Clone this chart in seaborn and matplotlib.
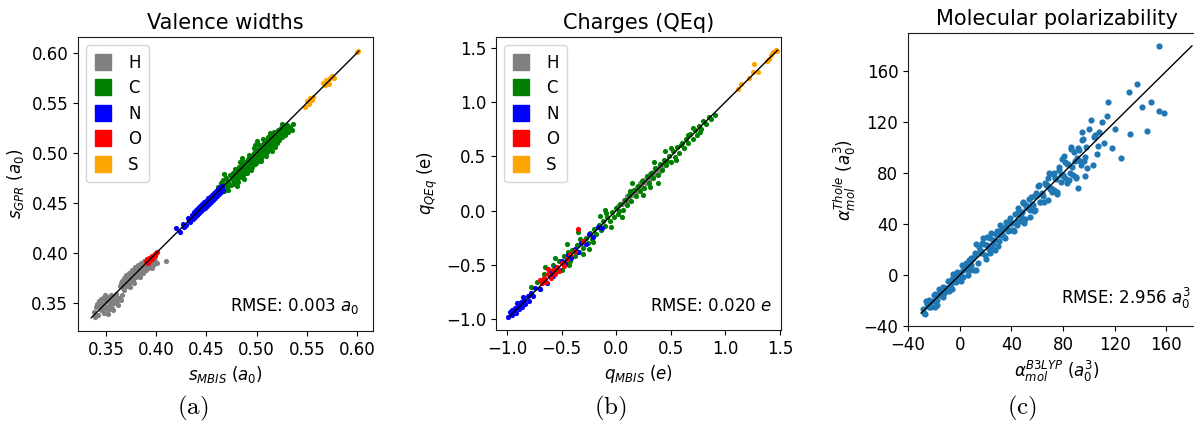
import pandas as pd
import matplotlib
matplotlib.use('Agg')
import matplotlib.pyplot as plt
import seaborn as sns
from matplotlib.lines import Line2D

sns.set_style('ticks', {'axes.edgecolor': '0.1', 'text.color': 'black', 'axes.labelcolor': 'black',
                        'xtick.color': 'black', 'ytick.color': 'black'})
plt.rcParams['font.family'] = ['DejaVu Sans']

elements = ['H', 'C', 'N', 'O', 'S']
elem_colors = ['grey', 'green', 'blue', 'red', 'orange']

# (a) valence widths, (MBIS, GPR) pairs
wid_H = [(0.338, 0.341), (0.340, 0.346), (0.342, 0.338), (0.343, 0.352), (0.345, 0.343), (0.346, 0.349),
         (0.347, 0.355), (0.348, 0.340), (0.349, 0.351), (0.350, 0.346), (0.351, 0.356), (0.352, 0.343),
         (0.353, 0.352), (0.354, 0.348), (0.355, 0.358), (0.356, 0.345), (0.357, 0.354), (0.358, 0.350),
         (0.359, 0.357), (0.361, 0.352), (0.363, 0.355), (0.365, 0.353), (0.344, 0.347), (0.350, 0.353),
         (0.355, 0.351), (0.360, 0.359), (0.347, 0.344), (0.353, 0.347), (0.341, 0.349), (0.345, 0.354),
         (0.349, 0.358), (0.352, 0.339), (0.357, 0.343), (0.362, 0.348), (0.339, 0.336), (0.366, 0.358),
         (0.364, 0.367), (0.366, 0.372), (0.367, 0.365), (0.368, 0.375), (0.369, 0.369), (0.370, 0.378),
         (0.371, 0.367), (0.372, 0.374), (0.373, 0.380), (0.374, 0.371), (0.375, 0.377), (0.376, 0.383),
         (0.377, 0.373), (0.378, 0.379), (0.379, 0.386), (0.380, 0.376), (0.381, 0.382), (0.382, 0.388),
         (0.383, 0.378), (0.384, 0.385), (0.385, 0.390), (0.386, 0.380), (0.387, 0.387), (0.388, 0.392),
         (0.389, 0.383), (0.390, 0.389), (0.391, 0.394), (0.392, 0.385), (0.393, 0.390), (0.394, 0.395),
         (0.395, 0.386), (0.396, 0.391), (0.397, 0.388), (0.399, 0.392), (0.372, 0.370), (0.377, 0.381),
         (0.381, 0.379), (0.385, 0.383), (0.389, 0.386), (0.393, 0.387), (0.375, 0.374), (0.383, 0.384),
         (0.368, 0.363), (0.371, 0.373), (0.374, 0.366), (0.378, 0.370), (0.380, 0.384), (0.384, 0.376),
         (0.387, 0.380), (0.390, 0.383), (0.392, 0.392), (0.396, 0.385), (0.398, 0.389), (0.401, 0.390),
         (0.365, 0.370), (0.370, 0.372), (0.376, 0.377), (0.382, 0.383), (0.386, 0.386), (0.410, 0.392)]
wid_C = [(0.462, 0.466), (0.464, 0.461), (0.465, 0.470), (0.466, 0.465), (0.467, 0.473), (0.468, 0.462),
         (0.469, 0.468), (0.470, 0.475), (0.471, 0.466), (0.472, 0.471), (0.473, 0.478), (0.474, 0.468),
         (0.475, 0.474), (0.476, 0.480), (0.477, 0.470), (0.478, 0.476), (0.479, 0.483), (0.480, 0.473),
         (0.481, 0.479), (0.482, 0.486), (0.483, 0.476), (0.484, 0.482), (0.485, 0.488), (0.486, 0.478),
         (0.487, 0.485), (0.488, 0.491), (0.489, 0.481), (0.490, 0.487), (0.491, 0.494), (0.492, 0.484),
         (0.493, 0.490), (0.494, 0.497), (0.495, 0.486), (0.496, 0.493), (0.497, 0.500), (0.498, 0.489),
         (0.499, 0.496), (0.500, 0.503), (0.501, 0.492), (0.502, 0.499), (0.503, 0.506), (0.504, 0.495),
         (0.505, 0.502), (0.506, 0.509), (0.507, 0.498), (0.508, 0.505), (0.509, 0.512), (0.510, 0.501),
         (0.511, 0.508), (0.512, 0.515), (0.513, 0.504), (0.514, 0.511), (0.515, 0.518), (0.516, 0.507),
         (0.517, 0.514), (0.518, 0.520), (0.519, 0.510), (0.520, 0.517), (0.521, 0.523), (0.522, 0.513),
         (0.523, 0.519), (0.524, 0.525), (0.525, 0.516), (0.526, 0.521), (0.527, 0.527), (0.528, 0.518),
         (0.529, 0.524), (0.531, 0.521), (0.533, 0.526), (0.535, 0.523), (0.476, 0.469), (0.483, 0.491),
         (0.490, 0.480), (0.497, 0.505), (0.504, 0.492), (0.511, 0.516), (0.518, 0.506), (0.468, 0.479),
         (0.480, 0.467), (0.500, 0.512), (0.515, 0.502), (0.525, 0.529), (0.487, 0.474), (0.494, 0.483),
         (0.506, 0.514), (0.513, 0.520), (0.520, 0.510), (0.472, 0.463), (0.485, 0.495), (0.498, 0.508),
         (0.509, 0.497), (0.530, 0.528), (0.478, 0.484), (0.481, 0.471), (0.488, 0.480), (0.492, 0.498),
         (0.495, 0.489), (0.499, 0.490), (0.502, 0.508), (0.507, 0.503), (0.510, 0.513), (0.514, 0.506),
         (0.517, 0.521), (0.521, 0.515), (0.524, 0.520), (0.528, 0.525), (0.536, 0.529), (0.466, 0.471)]
wid_N = [(0.420, 0.425), (0.424, 0.421), (0.427, 0.429), (0.430, 0.428), (0.432, 0.435), (0.434, 0.431),
         (0.436, 0.438), (0.437, 0.434), (0.438, 0.441), (0.439, 0.436), (0.440, 0.443), (0.441, 0.438),
         (0.442, 0.445), (0.443, 0.440), (0.444, 0.447), (0.445, 0.442), (0.446, 0.449), (0.447, 0.444),
         (0.448, 0.451), (0.449, 0.445), (0.450, 0.452), (0.451, 0.447), (0.452, 0.455), (0.453, 0.449),
         (0.454, 0.456), (0.455, 0.451), (0.456, 0.458), (0.457, 0.453), (0.458, 0.460), (0.459, 0.455),
         (0.460, 0.462), (0.461, 0.457), (0.462, 0.464), (0.463, 0.459), (0.464, 0.466), (0.465, 0.461),
         (0.466, 0.467), (0.467, 0.463), (0.443, 0.444), (0.447, 0.448), (0.451, 0.451), (0.455, 0.455),
         (0.459, 0.459), (0.463, 0.463), (0.428, 0.426), (0.433, 0.433)]
wid_O = [(0.390, 0.392), (0.391, 0.394), (0.392, 0.393), (0.393, 0.395), (0.394, 0.394), (0.395, 0.396),
         (0.396, 0.397), (0.397, 0.396), (0.398, 0.398), (0.399, 0.399), (0.400, 0.400), (0.401, 0.401),
         (0.393, 0.392), (0.396, 0.394), (0.399, 0.397), (0.392, 0.390)]
wid_S = [(0.550, 0.552), (0.553, 0.555), (0.555, 0.553), (0.556, 0.556), (0.552, 0.549), (0.566, 0.570),
         (0.569, 0.573), (0.571, 0.572), (0.573, 0.575), (0.575, 0.577), (0.568, 0.568), (0.577, 0.575),
         (0.572, 0.569), (0.601, 0.602), (0.600, 0.601), (0.548, 0.546)]
wid_line = [0.335, 0.602]

# (b) charges, (MBIS, QEq) pairs
chg_H = [(0.02, 0.04), (0.05, 0.06), (0.07, 0.10), (0.09, 0.08), (0.10, 0.13), (0.12, 0.11), (0.13, 0.16),
         (0.15, 0.14), (0.16, 0.19), (0.18, 0.17), (0.19, 0.22), (0.21, 0.20), (0.22, 0.25), (0.24, 0.22),
         (0.25, 0.28), (0.27, 0.25), (0.28, 0.31), (0.30, 0.28), (0.31, 0.34), (0.33, 0.31), (0.34, 0.36),
         (0.36, 0.34), (0.37, 0.39), (0.39, 0.36), (0.40, 0.41), (0.42, 0.39), (0.44, 0.43), (0.11, 0.09),
         (0.17, 0.15), (0.23, 0.23), (0.29, 0.29), (0.35, 0.33), (0.20, 0.19), (0.26, 0.26), (0.32, 0.32),
         (0.38, 0.37)]
chg_C = [(-0.78, -0.70), (-0.72, -0.66), (-0.66, -0.58), (-0.60, -0.61), (-0.58, -0.50), (-0.55, -0.56),
         (-0.52, -0.46), (-0.50, -0.55), (-0.48, -0.42), (-0.46, -0.48), (-0.44, -0.38), (-0.42, -0.46),
         (-0.40, -0.36), (-0.38, -0.42), (-0.36, -0.32), (-0.34, -0.38), (-0.32, -0.29), (-0.30, -0.34),
         (-0.28, -0.25), (-0.26, -0.30), (-0.24, -0.21), (-0.22, -0.26), (-0.20, -0.17), (-0.18, -0.22),
         (-0.16, -0.13), (-0.14, -0.18), (-0.12, -0.10), (-0.10, -0.14), (-0.08, -0.06), (-0.06, -0.10),
         (-0.04, -0.01), (-0.02, -0.06), (0.00, 0.02), (0.02, -0.03), (0.04, 0.06), (0.06, 0.01),
         (0.08, 0.10), (0.10, 0.05), (0.12, 0.14), (0.14, 0.09), (0.16, 0.19), (0.18, 0.13), (0.20, 0.23),
         (0.22, 0.18), (0.24, 0.27), (0.26, 0.21), (0.28, 0.32), (0.30, 0.25), (0.32, 0.35), (0.34, 0.30),
         (0.36, 0.39), (0.38, 0.33), (0.40, 0.43), (0.42, 0.37), (0.44, 0.47), (0.46, 0.42), (0.48, 0.50),
         (0.50, 0.45), (0.52, 0.55), (0.54, 0.49), (0.56, 0.59), (0.58, 0.53), (0.60, 0.62), (0.62, 0.58),
         (0.64, 0.66), (0.66, 0.62), (0.68, 0.71), (0.70, 0.66), (0.72, 0.74), (0.74, 0.70), (0.76, 0.78),
         (0.78, 0.75), (0.80, 0.83), (0.82, 0.80), (0.85, 0.86), (0.87, 0.84), (-0.65, -0.52), (-0.35, -0.20),
         (-0.15, -0.05), (0.05, -0.06), (0.25, 0.14), (0.45, 0.55), (0.55, 0.47), (-0.25, -0.35),
         (-0.05, -0.15), (0.50, 0.58), (0.70, 0.76), (-0.45, -0.31), (-0.10, 0.01), (0.15, 0.25),
         (0.35, 0.45), (-0.30, -0.40), (-0.70, -0.72), (0.38, 0.25), (-0.56, -0.44), (-0.43, -0.50),
         (-0.33, -0.26), (-0.21, -0.29), (-0.09, -0.02), (0.03, 0.00), (0.13, 0.18), (0.31, 0.22),
         (0.47, 0.46), (0.59, 0.60), (0.66, 0.70), (0.77, 0.72), (0.91, 0.88)]
chg_N = [(-0.99, -0.98), (-0.97, -0.93), (-0.95, -0.96), (-0.93, -0.90), (-0.92, -0.94), (-0.90, -0.87),
         (-0.89, -0.91), (-0.87, -0.84), (-0.86, -0.89), (-0.84, -0.82), (-0.83, -0.86), (-0.81, -0.79),
         (-0.80, -0.83), (-0.78, -0.76), (-0.76, -0.79), (-0.74, -0.71), (-0.70, -0.72), (-0.66, -0.63),
         (-0.63, -0.67), (-0.60, -0.56), (-0.58, -0.60), (-0.55, -0.52), (-0.52, -0.55), (-0.50, -0.46),
         (-0.47, -0.49), (-0.44, -0.41), (-0.41, -0.44), (-0.38, -0.35), (-0.35, -0.38), (-0.32, -0.30),
         (-0.28, -0.31), (-0.25, -0.22), (-0.21, -0.24), (-0.17, -0.15), (-0.13, -0.16), (-0.91, -0.85),
         (-0.85, -0.80), (-0.95, -0.92)]
chg_O = [(-0.70, -0.64), (-0.68, -0.67), (-0.66, -0.62), (-0.64, -0.66), (-0.62, -0.58), (-0.60, -0.62),
         (-0.58, -0.55), (-0.56, -0.58), (-0.54, -0.52), (-0.52, -0.56), (-0.50, -0.48), (-0.48, -0.51),
         (-0.45, -0.45), (-0.42, -0.40), (-0.38, -0.37), (-0.35, -0.17), (-0.30, -0.28), (-0.62, -0.54)]
chg_S = [(1.12, 1.12), (1.14, 1.17), (1.22, 1.22), (1.25, 1.28), (1.26, 1.35), (1.30, 1.28), (1.38, 1.38),
         (1.42, 1.43), (1.44, 1.46), (1.46, 1.48), (1.47, 1.47), (1.40, 1.40)]
chg_line = [-0.98, 1.48]

# (c) molecular polarizability, (B3LYP, Thole) pairs
pol = [(-28.5, -26.7), (-27.0, -30.5), (-25.7, -20.3), (-24.1, -25.3), (-23.4, -19.8), (-22.0, -25.0),
       (-20.8, -20.2), (-19.5, -24.9), (-18.9, -14.7), (-17.2, -19.6), (-16.4, -10.7), (-15.0, -15.6),
       (-13.8, -11.1), (-12.9, -17.1), (-11.3, -10.1), (-10.6, -12.7), (-9.2, -4.4), (-7.9, -11.5),
       (-7.0, -6.7), (-5.6, -11.3), (-4.3, -1.0), (-3.5, -5.0), (-2.1, 2.4), (-0.8, -3.5), (0.4, 1.4),
       (1.5, 7.5), (2.7, -1.8), (3.9, 6.4), (5.2, 4.9), (6.1, 0.1), (7.4, 11.9), (8.8, 7.8), (9.5, 12.3),
       (10.9, 4.1), (12.2, 17.4), (13.0, 24.1), (14.4, 9.4), (15.6, 18.6), (16.8, 17.1), (17.5, 25.0),
       (18.9, 24.6), (20.1, 12.9), (21.4, 29.5), (22.6, 20.8), (23.8, 29.2), (25.3, 21.3), (26.5, 27.3),
       (27.2, 20.0), (28.9, 34.5), (30.1, 26.9), (31.4, 39.0), (32.7, 31.9), (33.5, 37.1), (34.9, 29.3),
       (36.2, 37.8), (37.1, 34.3), (38.6, 45.0), (39.8, 35.0), (40.7, 41.1), (42.1, 34.5), (43.3, 47.7),
       (44.6, 42.6), (45.4, 52.9), (46.8, 42.3), (48.1, 49.6), (49.2, 57.7), (50.5, 44.0), (51.7, 55.2),
       (52.9, 52.4), (54.2, 45.7), (55.1, 61.6), (56.6, 55.1), (57.8, 61.8), (58.7, 51.2), (60.2, 62.7),
       (61.3, 70.3), (62.5, 57.0), (63.9, 63.9), (64.8, 61.8), (66.1, 72.1), (67.4, 71.0), (68.6, 59.0),
       (69.5, 80.3), (70.9, 68.5), (72.2, 79.4), (73.1, 67.1), (74.5, 75.7), (75.7, 64.9), (76.8, 85.2),
       (78.2, 73.4), (79.4, 90.8), (80.3, 78.8), (81.7, 88.5), (82.9, 72.4), (84.1, 87.1), (85.3, 80.0),
       (86.6, 98.6), (87.8, 78.8), (89.1, 89.9), (90.4, 76.1), (91.7, 100.0), (93.2, 89.4), (94.6, 105.9),
       (96.3, 89.5), (98.1, 100.4),
       (-27.8, -30.0), (-25.0, -22.6), (-22.7, -23.3), (-20.2, -15.4), (-17.9, -23.3), (-15.7, -14.5),
       (-13.3, -9.4), (-11.9, -14.0), (-9.8, -9.8), (-8.4, -12.6), (-6.3, -3.3), (-4.9, 0.5), (-2.8, -5.5),
       (-1.4, -0.8), (0.9, -4.7), (2.2, 4.3), (4.6, 9.5), (5.8, 4.4), (7.9, 4.0), (9.1, 13.3), (11.5, 15.9),
       (12.7, 4.1), (14.9, 21.9), (16.2, 18.8), (18.2, 28.9), (19.6, 16.0), (21.1, 23.3), (23.2, 17.3),
       (24.5, 33.1), (26.1, 24.9), (28.1, 32.5), (29.5, 22.7), (31.0, 31.4), (32.2, 35.0), (34.1, 30.1),
       (35.6, 41.6), (37.8, 35.4), (39.3, 40.9), (41.4, 35.4), (42.8, 47.6), (44.1, 39.3), (46.1, 50.1),
       (47.5, 46.5), (48.8, 56.8), (50.1, 41.1), (51.2, 53.2), (53.5, 60.0), (54.8, 51.3), (56.1, 56.1),
       (57.2, 50.2), (59.5, 64.5), (60.8, 69.8), (61.9, 57.4), (63.4, 64.4), (65.5, 57.5), (66.8, 70.4),
       (68.1, 76.5), (69.9, 67.5), (71.5, 64.9), (72.7, 79.9), (74.0, 75.8), (75.2, 63.8), (77.3, 82.7),
       (78.8, 78.2), (80.8, 93.6), (81.9, 75.9), (83.5, 87.3), (84.8, 75.0), (86.1, 100.4), (87.3, 85.0),
       (88.6, 96.9), (90.0, 77.2), (91.2, 92.0), (92.6, 97.9), (94.1, 86.6), (95.4, 106.7), (97.2, 92.7),
       (102, 122), (104, 108), (106, 95), (108, 112), (110, 120), (105, 110), (120, 115), (125, 92),
       (132, 111), (145, 113), (158, 127), (154, 129), (141, 132), (148, 136), (115, 136), (131, 144),
       (137, 150), (154, 180), (112, 104), (118, 100), (103, 86), (97, 78), (100, 115), (107, 101),
       (114, 125), (95, 112), (92, 68), (99, 84)]
pol_line = [-30, 180]


def element_frame(groups):
    rows = []
    for el, pts in zip(elements, groups):
        for x, y in pts:
            rows.append({'x': x, 'y': y, 'el': el})
    return pd.DataFrame(rows)


df_wid = element_frame([wid_H, wid_C, wid_N, wid_O, wid_S])
df_chg = element_frame([chg_H, chg_C, chg_N, chg_O, chg_S])
df_pol = pd.DataFrame(pol, columns=['x', 'y'])

palette = dict(zip(elements, elem_colors))

fig = plt.figure(figsize=(11.94, 4.23), dpi=100)
ax1 = fig.add_axes([0.0653, 0.2175, 0.2471, 0.6950])
ax2 = fig.add_axes([0.4154, 0.2199, 0.2387, 0.6927])
ax3 = fig.add_axes([0.7605, 0.2293, 0.2487, 0.6927])

for ax, df, line, size in [(ax1, df_wid, wid_line, 14), (ax2, df_chg, chg_line, 14)]:
    for el in elements:
        sub = df[df['el'] == el]
        sns.scatterplot(data=sub, x='x', y='y', color=palette[el], s=size, linewidth=0,
                        legend=False, ax=ax)
    ax.plot(line, line, color='k', lw=1)
    handles = [Line2D([], [], marker='s', ls='', color=c, markersize=11) for c in elem_colors]
    ax.legend(handles, elements, loc='upper left', fontsize=12, handlelength=1.0,
              handletextpad=1.0, labelspacing=0.45, borderpad=0.5)

sns.scatterplot(data=df_pol, x='x', y='y', color='#1f77b4', s=20, linewidth=0, legend=False, ax=ax3)
ax3.plot(pol_line, pol_line, color='k', lw=1)

ax1.set_xlim(0.322, 0.616)
ax1.set_ylim(0.322, 0.616)
ax1.set_xticks([0.35, 0.40, 0.45, 0.50, 0.55, 0.60])
ax1.set_yticks([0.35, 0.40, 0.45, 0.50, 0.55, 0.60])
ax1.set_xticklabels(['0.35', '0.40', '0.45', '0.50', '0.55', '0.60'])
ax1.set_yticklabels(['0.35', '0.40', '0.45', '0.50', '0.55', '0.60'])
ax1.set_xlabel(r'$s_{MBIS}$ $(a_0)$', fontsize=12)
ax1.set_ylabel(r'$s_{GPR}$ $(a_0)$', fontsize=12)
ax1.set_title('Valence widths', fontsize=15)
ax1.text(0.955, 0.05, r'RMSE: 0.003 $a_0$', transform=ax1.transAxes, ha='right', va='bottom', fontsize=12)

ax2.set_xlim(-1.10, 1.51)
ax2.set_ylim(-1.10, 1.60)
ax2.set_xticks([-1.0, -0.5, 0.0, 0.5, 1.0, 1.5])
ax2.set_yticks([-1.0, -0.5, 0.0, 0.5, 1.0, 1.5])
ax2.set_xlabel(r'$q_{MBIS}$ $(e)$', fontsize=12)
ax2.set_ylabel(r'$q_{QEq}$ (e)', fontsize=12)
ax2.set_title('Charges (QEq)', fontsize=15)
ax2.text(0.97, 0.05, r'RMSE: 0.020 $e$', transform=ax2.transAxes, ha='right', va='bottom', fontsize=12)

ax3.set_xlim(-40, 190)
ax3.set_ylim(-40, 190)
ax3.set_xticks([-40, 0, 40, 80, 120, 160])
ax3.set_yticks([-40, 0, 40, 80, 120, 160])
ax3.set_xlabel(r'$\alpha_{mol}^{B3LYP}$ $(a_0^3)$', fontsize=12)
ax3.set_ylabel(r'$\alpha_{mol}^{Thole}$ $(a_0^3)$', fontsize=12)
ax3.set_title('Molecular polarizability', fontsize=15)
ax3.text(0.955, 0.05, r'RMSE: 2.956 $a_0^3$', transform=ax3.transAxes, ha='right', va='bottom', fontsize=12)

for ax in (ax1, ax2, ax3):
    ax.tick_params(labelsize=12)

for lab, xc in [('(a)', 193), ('(b)', 610), ('(c)', 1022)]:
    fig.text(xc / 1194, 1 - 408 / 423, r'$\mathrm{' + lab + '}$', ha='center', va='center',
             fontsize=18, math_fontfamily='cm')

fig.savefig('out.png', dpi=100)
